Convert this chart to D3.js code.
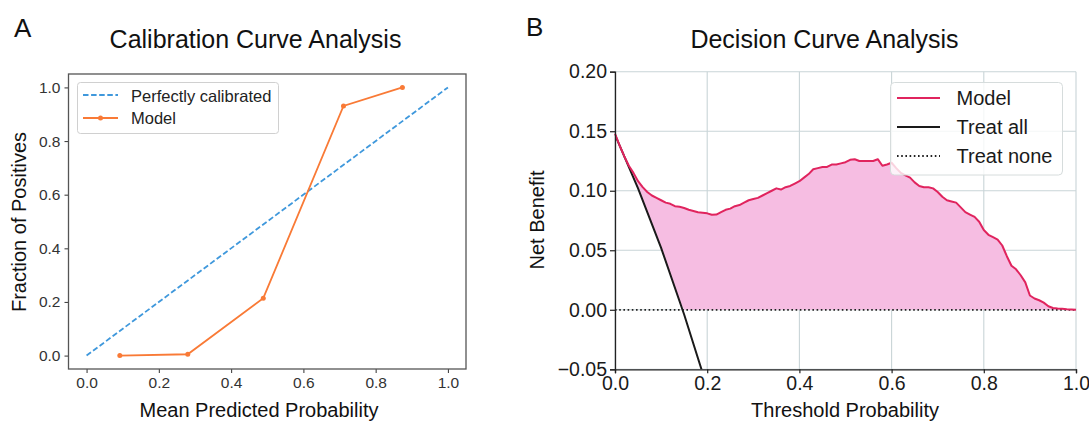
<!DOCTYPE html>
<html>
<head>
<meta charset="utf-8">
<script src="https://cdn.jsdelivr.net/npm/d3@7"></script>
<style>
  body { margin: 0; background: #fff; }
  svg text { font-family: "Liberation Sans", Arial, sans-serif; }
</style>
</head>
<body>
<div id="chart"></div>
<script>
// calibration curve (panel A)
const calibBins = [0.092, 0.28, 0.489, 0.711, 0.874];
const calibFrac = [0.0, 0.005, 0.214, 0.931, 1.0];
const perfectX = [0, 1];
const perfectY = [0, 1];
const calibTicks = [0, 0.2, 0.4, 0.6, 0.8, 1.0];

// decision curve (panel B)
const thresholds = [0.00, 0.01, 0.02, 0.03, 0.04, 0.05, 0.06, 0.07, 0.08, 0.09,
  0.10, 0.11, 0.12, 0.13, 0.14, 0.15, 0.16, 0.17, 0.18, 0.19,
  0.20, 0.21, 0.22, 0.23, 0.24, 0.25, 0.26, 0.27, 0.28, 0.29,
  0.30, 0.31, 0.32, 0.33, 0.34, 0.35, 0.36, 0.37, 0.38, 0.39,
  0.40, 0.41, 0.42, 0.43, 0.44, 0.45, 0.46, 0.47, 0.48, 0.49,
  0.50, 0.51, 0.52, 0.53, 0.54, 0.55, 0.56, 0.57, 0.58, 0.59,
  0.60, 0.61, 0.62, 0.63, 0.64, 0.65, 0.66, 0.67, 0.68, 0.69,
  0.70, 0.71, 0.72, 0.73, 0.74, 0.75, 0.76, 0.77, 0.78, 0.79,
  0.80, 0.81, 0.82, 0.83, 0.84, 0.85, 0.86, 0.87, 0.88, 0.89,
  0.90, 0.91, 0.92, 0.93, 0.94, 0.95, 0.96, 0.97, 0.98, 0.99, 1.00];
const modelNB = [0.148, 0.138, 0.129, 0.121, 0.115, 0.108, 0.103, 0.099, 0.096, 0.094,
  0.092, 0.090, 0.089, 0.087, 0.0866, 0.0855, 0.084, 0.083, 0.082, 0.0815,
  0.081, 0.0798, 0.080, 0.082, 0.084, 0.085, 0.087, 0.088, 0.090, 0.092,
  0.093, 0.094, 0.096, 0.098, 0.100, 0.102, 0.101, 0.103, 0.104, 0.106,
  0.108, 0.111, 0.114, 0.118, 0.119, 0.120, 0.120, 0.122, 0.122, 0.123,
  0.124, 0.126, 0.1265, 0.125, 0.125, 0.125, 0.125, 0.1265, 0.121, 0.122,
  0.1235, 0.119, 0.115, 0.113, 0.111, 0.107, 0.104, 0.103, 0.103, 0.102,
  0.099, 0.095, 0.092, 0.091, 0.090, 0.086, 0.082, 0.080, 0.078, 0.074,
  0.067, 0.063, 0.061, 0.059, 0.054, 0.045, 0.037, 0.034, 0.029, 0.023,
  0.012, 0.0095, 0.008, 0.006, 0.003, 0.0015, 0.001, 0.0008, 0.0004, 0.0002, 0.0];
const treatAllThr = [0, 0.05, 0.10, 0.15, 0.19];
const treatAllNB = [0.147, 0.102, 0.052, -0.004, -0.053];
const treatNoneThr = [0, 1];
const treatNoneNB = [0, 0];
const dcaXTicks = [0, 0.2, 0.4, 0.6, 0.8, 1.0];
const dcaYTicks = [-0.05, 0, 0.05, 0.10, 0.15, 0.20];

const blue = "#3f98dc", orange = "#f97a36", pink = "#e0245e", pinkFill = "#f6bde2";

let svg = d3.select("#chart")
  .append("svg")
  .attr("width", 1089)
  .attr("height", 421);

// ---------- panel A ----------
let xA = d3.scaleLinear().domain([-0.05, 1.05]).range([68.5, 466]);
let yA = d3.scaleLinear().domain([-0.05, 1.05]).range([369, 74]);

svg.append("text").attr("x", 14).attr("y", 37)
  .style("font-size", "26px").attr("fill", "#111").text("A");
svg.append("text").attr("x", 255.5).attr("y", 48)
  .attr("text-anchor", "middle").style("font-size", "25px").attr("fill", "#111")
  .text("Calibration Curve Analysis");

let gA = svg.append("g");

// axes
let axA_x = gA.append("g")
  .attr("transform", "translate(0,369)")
  .call(d3.axisBottom(xA).tickValues(calibTicks).tickFormat(d3.format(".1f")).tickSize(4).tickPadding(4));
let axA_y = gA.append("g")
  .attr("transform", "translate(68.5,0)")
  .call(d3.axisLeft(yA).tickValues(calibTicks).tickFormat(d3.format(".1f")).tickSize(4).tickPadding(4));
[axA_x, axA_y].forEach(function (a) {
  a.select(".domain").remove();
  a.selectAll("line").attr("stroke", "#444").attr("stroke-width", 1.1);
  a.selectAll("text").style("font-size", "15.5px").attr("fill", "#333");
});

// frame
gA.append("rect")
  .attr("x", 68.5).attr("y", 74).attr("width", 466 - 68.5).attr("height", 369 - 74)
  .attr("fill", "none").attr("stroke", "#555").attr("stroke-width", 1.3);

// perfectly calibrated
gA.append("path")
  .datum(perfectX.map((d, i) => [d, perfectY[i]]))
  .attr("d", d3.line().x(d => xA(d[0])).y(d => yA(d[1])))
  .attr("fill", "none").attr("stroke", blue).attr("stroke-width", 1.8)
  .attr("stroke-dasharray", "5.5,2.6");

// model
let calibPts = calibBins.map((d, i) => [d, calibFrac[i]]);
gA.append("path")
  .datum(calibPts)
  .attr("d", d3.line().x(d => xA(d[0])).y(d => yA(d[1])))
  .attr("fill", "none").attr("stroke", orange).attr("stroke-width", 1.8);
gA.selectAll(".pt")
  .data(calibPts)
  .enter()
  .append("circle")
  .attr("cx", d => xA(d[0])).attr("cy", d => yA(d[1]))
  .attr("r", 2.5).attr("fill", orange);

// labels
svg.append("text").attr("x", 259).attr("y", 417)
  .attr("text-anchor", "middle").style("font-size", "20px").attr("fill", "#111")
  .text("Mean Predicted Probability");
svg.append("text")
  .attr("transform", "translate(26,222) rotate(-90)")
  .attr("text-anchor", "middle").style("font-size", "20px").attr("fill", "#111")
  .text("Fraction of Positives");

// legend A
let legA = gA.append("g");
legA.append("rect")
  .attr("x", 77.5).attr("y", 82.5).attr("width", 201).attr("height", 51)
  .attr("rx", 3).attr("fill", "#fff").attr("fill-opacity", 0.8)
  .attr("stroke", "#d0d0d0");
legA.append("line").attr("x1", 83).attr("x2", 118).attr("y1", 95).attr("y2", 95)
  .attr("stroke", blue).attr("stroke-width", 1.8).attr("stroke-dasharray", "5.5,2.6");
legA.append("line").attr("x1", 83).attr("x2", 118).attr("y1", 118).attr("y2", 118)
  .attr("stroke", orange).attr("stroke-width", 1.8);
legA.append("circle").attr("cx", 100.5).attr("cy", 118).attr("r", 2.5).attr("fill", orange);
legA.append("text").attr("x", 131).attr("y", 101.5)
  .style("font-size", "16.5px").attr("fill", "#222").text("Perfectly calibrated");
legA.append("text").attr("x", 131).attr("y", 124)
  .style("font-size", "16.5px").attr("fill", "#222").text("Model");

// ---------- panel B ----------
let xB = d3.scaleLinear().domain([0, 1]).range([615, 1076]);
let yB = d3.scaleLinear().domain([-0.05, 0.20]).range([369.3, 71.7]);

svg.append("text").attr("x", 526).attr("y", 36)
  .style("font-size", "26px").attr("fill", "#111").text("B");
svg.append("text").attr("x", 824.5).attr("y", 48)
  .attr("text-anchor", "middle").style("font-size", "25px").attr("fill", "#111")
  .text("Decision Curve Analysis");

let gB = svg.append("g");

svg.append("clipPath").attr("id", "clipB")
  .append("rect").attr("x", 615).attr("y", 71.7).attr("width", 461).attr("height", 369.3 - 71.7);

// grid
gB.selectAll(".gx")
  .data(dcaXTicks)
  .enter()
  .append("line")
  .attr("x1", d => xB(d)).attr("x2", d => xB(d))
  .attr("y1", yB(-0.05)).attr("y2", yB(0.20))
  .attr("stroke", "#c9d4d7").attr("stroke-width", 1.1);
gB.selectAll(".gy")
  .data(dcaYTicks)
  .enter()
  .append("line")
  .attr("x1", xB(0)).attr("x2", xB(1))
  .attr("y1", d => yB(d)).attr("y2", d => yB(d))
  .attr("stroke", "#c9d4d7").attr("stroke-width", 1.1);

// fill between model and the best of treat all / treat none
let treatAllAt = d3.scaleLinear().domain(treatAllThr).range(treatAllNB);
let modelPts = thresholds.map((d, i) => [d, modelNB[i]]);
gB.append("path")
  .datum(modelPts)
  .attr("d", d3.area()
    .x(d => xB(d[0]))
    .y0(d => yB(Math.max(0, d[0] <= 0.19 ? treatAllAt(d[0]) : 0)))
    .y1(d => yB(d[1])))
  .attr("fill", pinkFill);

// treat none
gB.append("path")
  .datum(treatNoneThr.map((d, i) => [d, treatNoneNB[i]]))
  .attr("d", d3.line().x(d => xB(d[0])).y(d => yB(d[1])))
  .attr("fill", "none").attr("stroke", "#222").attr("stroke-width", 1.8)
  .attr("stroke-dasharray", "1.6,2.6");

// treat all
gB.append("path")
  .datum(treatAllThr.map((d, i) => [d, treatAllNB[i]]))
  .attr("clip-path", "url(#clipB)")
  .attr("d", d3.line().x(d => xB(d[0])).y(d => yB(d[1])))
  .attr("fill", "none").attr("stroke", "#1a1a1a").attr("stroke-width", 2);

// model
gB.append("path")
  .datum(modelPts)
  .attr("d", d3.line().x(d => xB(d[0])).y(d => yB(d[1])))
  .attr("fill", "none").attr("stroke", pink).attr("stroke-width", 2)
  .attr("stroke-linejoin", "round");

// axes
let axB_x = gB.append("g")
  .attr("transform", "translate(0,369.3)")
  .call(d3.axisBottom(xB).tickValues(dcaXTicks).tickFormat(d3.format(".1f")).tickSize(4).tickPadding(3));
let axB_y = gB.append("g")
  .attr("transform", "translate(615,0)")
  .call(d3.axisLeft(yB).tickValues(dcaYTicks).tickFormat(d3.format(".2f")).tickSize(5).tickPadding(3));
[axB_x, axB_y].forEach(function (a) {
  a.select(".domain").attr("stroke", "#222").attr("stroke-width", 1.3);
  a.selectAll("line").attr("stroke", "#222").attr("stroke-width", 1.2);
  a.selectAll("text").style("font-size", "19.5px").attr("fill", "#1a1a1a");
});

svg.append("text").attr("x", 845).attr("y", 417)
  .attr("text-anchor", "middle").style("font-size", "20px").attr("fill", "#111")
  .text("Threshold Probability");
svg.append("text")
  .attr("transform", "translate(544,220) rotate(-90)")
  .attr("text-anchor", "middle").style("font-size", "20px").attr("fill", "#111")
  .text("Net Benefit");

// legend B
let legB = gB.append("g");
legB.append("rect")
  .attr("x", 890.5).attr("y", 82.5).attr("width", 172).attr("height", 92.5)
  .attr("rx", 4).attr("fill", "#fff").attr("fill-opacity", 0.8)
  .attr("stroke", "#d6dcdc");
let legItems = [
  {name: "Model", color: pink, dash: null, y: 98},
  {name: "Treat all", color: "#1a1a1a", dash: null, y: 127},
  {name: "Treat none", color: "#222", dash: "1.6,2.6", y: 156}
];
legB.selectAll(".li")
  .data(legItems)
  .enter()
  .append("line")
  .attr("x1", 897).attr("x2", 940)
  .attr("y1", d => d.y).attr("y2", d => d.y)
  .attr("stroke", d => d.color).attr("stroke-width", 2)
  .attr("stroke-dasharray", d => d.dash);
legB.selectAll(".lt")
  .data(legItems)
  .enter()
  .append("text")
  .attr("x", 956.5).attr("y", d => d.y + 7)
  .style("font-size", "20px").attr("fill", "#1a1a1a")
  .text(d => d.name);
</script>
</body>
</html>
